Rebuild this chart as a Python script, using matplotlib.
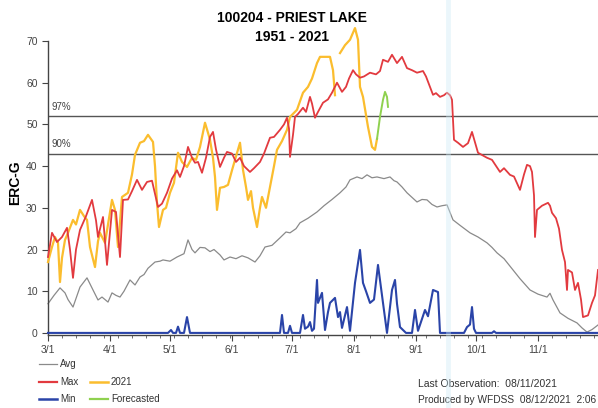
import numpy as np
import matplotlib
matplotlib.use("Agg")
import matplotlib.pyplot as plt
from matplotlib.lines import Line2D

plt.rcParams['font.family'] = ['Liberation Sans', 'DejaVu Sans']

# ---------------- data (day offset from 3/1, ERC-G) ----------------
tick_days = [0, 31, 61, 92, 122, 153, 184, 214, 245]
tick_labels = ["3/1", "4/1", "5/1", "6/1", "7/1", "8/1", "9/1", "10/1", "11/1"]
pct_levels = [52, 43]
pct_labels = ["97%", "90%"]

avg_days = [0, 3, 6, 8.5, 10, 12.5, 16, 19.5, 22.5, 25, 27, 30, 32, 34, 36, 38, 41, 43.5,
            46, 48, 50, 53.5, 56, 57.5, 61, 64.5, 68, 70, 72, 73.5, 76, 78.5, 81, 83, 86,
            88, 91, 94, 97, 100, 103.5, 106, 108.5, 112, 116, 119, 121, 124, 126, 130,
            134.5, 138, 142, 146, 149, 151, 154.5, 157, 159.5, 162, 164.5, 168, 171, 173,
            174.5, 177, 179.5, 182, 184.5, 187, 189.5, 192, 194.5, 197, 199.5, 202.5, 206,
            211, 215, 219.5, 222, 224.5, 228, 232.5, 236, 241, 245, 249.5, 251, 252.5, 256,
            260, 264.5, 267, 269.5, 272, 275]
avg_vals = [7.0, 9.0, 10.8, 9.6, 8.0, 6.2, 11.0, 13.2, 10.3, 7.9, 8.6, 7.4, 9.6, 9.0, 8.6,
            10.0, 12.7, 11.5, 13.4, 14.0, 15.5, 17.0, 17.2, 17.5, 17.2, 18.2, 19.0, 22.3,
            20.0, 19.2, 20.5, 20.4, 19.5, 20.0, 18.7, 17.5, 18.2, 17.8, 18.5, 18.0, 17.0,
            18.5, 20.6, 21.0, 22.8, 24.2, 24.0, 25.0, 26.4, 27.5, 29.0, 30.5, 32.0, 33.6,
            35.0, 36.7, 37.4, 37.0, 37.9, 37.2, 37.4, 37.0, 37.4, 36.5, 36.2, 35.0, 33.6,
            32.5, 31.4, 32.0, 31.9, 30.8, 30.2, 30.5, 30.7, 27.1, 25.8, 24.0, 23.0, 21.6,
            20.5, 19.2, 17.8, 15.1, 13.0, 10.3, 9.3, 8.6, 9.5, 7.9, 4.8, 3.5, 2.4, 1.2,
            0.2, 0.8, 1.9]

max_days = [0, 2, 4.5, 7, 9.5, 11, 12.5, 14, 16, 19, 22, 24, 25, 27.5, 29.5, 32, 34, 36,
            37.5, 40, 42, 44.5, 47, 49.5, 52, 55, 57, 59.5, 62, 64.5, 66, 68, 70, 72, 73.5,
            75, 77, 79, 81, 82.5, 84, 86, 88, 89.5, 92, 94, 96, 98, 101, 103, 106, 108, 111,
            113, 116, 118, 119.5, 120.5, 121, 122.5, 123.5, 125, 127.5, 129, 131, 132,
            133.5, 135, 137.5, 140, 142, 144.5, 147, 149, 150.5, 152.5, 154, 156, 158, 161,
            164, 166, 167.5, 170, 172, 174.5, 177, 179.5, 182, 184.5, 187.5, 189, 191,
            192.5, 194, 196, 198, 199.5, 201, 202, 203, 205, 207.5, 210, 212, 215, 219.5,
            222, 226, 228, 231, 233, 236, 238, 239.5, 241, 242, 243, 243.5, 244.5, 247,
            250, 251, 252, 254, 255.5, 257, 258.5, 259.5, 260, 262, 263.5, 265, 266.5,
            267.5, 270, 272, 273.5, 275]
max_vals = [18.2, 24.0, 21.8, 23.0, 25.2, 20.0, 13.2, 20.0, 24.7, 28.0, 31.9, 27.0, 23.0,
            27.8, 16.3, 29.5, 29.0, 18.2, 31.9, 32.0, 34.0, 36.7, 34.3, 36.2, 36.5, 30.2,
            31.0, 33.6, 37.0, 39.0, 37.4, 40.0, 44.6, 42.0, 40.8, 41.0, 38.4, 42.0, 47.0,
            48.2, 44.0, 39.8, 42.0, 43.4, 43.0, 41.0, 42.0, 40.0, 38.6, 39.5, 41.0, 43.0,
            46.8, 47.0, 48.7, 50.0, 51.6, 49.0, 42.2, 47.5, 51.8, 52.5, 54.0, 53.0, 56.6,
            55.0, 51.6, 53.0, 55.2, 56.0, 57.6, 60.0, 57.8, 59.0, 61.0, 63.0, 62.0, 61.2,
            61.5, 62.4, 62.0, 62.8, 65.5, 65.0, 66.7, 64.7, 66.2, 63.5, 63.0, 62.4, 62.8,
            61.5, 59.0, 57.1, 57.5, 56.6, 57.0, 57.6, 57.0, 55.9, 46.3, 45.6, 44.6, 45.5,
            48.2, 43.2, 42.0, 41.5, 38.6, 39.5, 37.9, 37.5, 34.3, 38.0, 40.3, 40.0, 38.6,
            33.0, 23.0, 29.5, 30.5, 31.2, 30.5, 28.8, 27.5, 25.0, 19.9, 17.0, 10.3, 15.1,
            14.5, 10.3, 12.0, 8.0, 3.8, 4.2, 7.2, 9.0, 15.1]

y2021_days = [0, 2, 3.5, 5, 6, 7, 8.5, 10, 12.5, 14, 16, 18, 19.5, 21, 23.5, 25, 26, 28.5,
              30, 32, 33.5, 35, 37, 40, 42, 43.5, 46, 48, 50, 52.5, 53.5, 54.5, 55.5, 57.5,
              59, 61, 63, 65, 67, 69.5, 72, 74, 76, 78.5, 80, 81, 82.5, 83.5, 84.5, 86, 88,
              90, 92, 93.5, 96, 97.5, 99, 100, 101.5, 102.5, 104.5, 106, 107, 109, 111, 113,
              114.5, 117, 119.5, 121, 124.5, 127.5, 130, 132, 134.5, 136, 139.5, 141,
              142.5, 143.5, 145, 146, 148.5, 151, 153.5, 155, 156, 157.5, 160, 162, 163.5,
              164.5]
y2021_vals = [17.0, 20.6, 23.0, 21.6, 12.2, 18.0, 22.3, 24.0, 27.1, 26.0, 29.5, 28.0, 27.1,
              20.6, 15.8, 22.0, 24.0, 21.6, 26.0, 31.9, 29.5, 20.6, 32.6, 33.6, 38.0, 42.7,
              45.6, 46.0, 47.5, 45.8, 40.0, 31.2, 25.4, 29.5, 30.0, 33.6, 36.0, 43.2, 41.0,
              39.8, 42.0, 41.5, 44.6, 50.4, 48.0, 46.3, 42.0, 37.4, 29.5, 34.8, 35.0, 35.5,
              39.0, 41.5, 45.6, 39.1, 35.0, 31.9, 34.0, 30.0, 25.4, 30.0, 32.6, 30.0, 35.0,
              40.0, 43.9, 46.0, 48.7, 51.8, 53.5, 57.6, 59.0, 61.0, 64.7, 66.2, 66.2, 66.2,
              63.0, 57.0, np.nan, 67.1, 69.0, 70.3, 73.1, 70.3, 59.0, 56.6, 49.4, 44.6,
              43.9, 46.5]

fcst_days = [164.5, 166, 167.5, 168.5, 169.5, 170]
fcst_vals = [46.5, 51.8, 55.9, 57.8, 56.6, 54.2]

min_days = [0, 60, 61.5, 62.5, 64, 65, 66, 68, 69.5, 71, 116, 117, 118, 120, 121, 122, 126,
            127.5, 128.5, 130, 131, 132, 133, 134.5, 135, 137, 138.5, 140, 141, 143.5, 145,
            146, 147, 149.5, 151, 153.5, 156, 157.5, 159, 161, 163, 165, 167.5, 169.5, 172,
            173.5, 174.5, 176, 179, 182, 183.5, 185, 188.5, 190, 192.5, 195, 196, 208,
            209.5, 211, 212, 213, 214, 222, 223, 224, 275]
min_vals = [0, 0, 0.7, 0, 0, 1.5, 0, 0, 3.8, 0, 0, 4.3, 0, 0, 1.7, 0, 0, 4.3, 1.0, 1.5, 2.6,
            0.5, 1.0, 12.7, 7.2, 9.6, 0.7, 5.0, 7.2, 8.4, 3.8, 5.0, 1.2, 6.2, 0.5, 12.0,
            19.9, 12.0, 10.0, 7.2, 8.0, 16.3, 7.2, 0, 10.3, 12.7, 7.0, 1.4, 0, 0, 5.5, 0.5,
            5.5, 4.0, 10.3, 9.8, 0, 0, 1.4, 2.0, 6.2, 1.0, 0, 0, 0.4, 0, 0]

# ---------------- figure ----------------
W, H = 598, 408
fig = plt.figure(figsize=(W / 100, H / 100), dpi=100)

def fx(x):
    return x / W

def fy(y):
    return 1 - y / H

ax_left, ax_right, ax_top, ax_bot = 48, 598, 41, 335
ax = fig.add_axes([fx(ax_left), fy(ax_bot), (ax_right - ax_left) / W, (ax_bot - ax_top) / H])
ax.set_xlim(0, 275)
ax.set_ylim(-0.5, 70)

red = "#e23a3f"
yellow = "#fbbd2e"
gray = "#8a8a8a"
blue = "#2a44a8"
green = "#8fd14f"

for lv, lb in zip(pct_levels, pct_labels):
    ax.axhline(lv, color="#555555", lw=1.0, zorder=1)
    ax.text(2, lv + 1.0, lb, fontsize=7, color="#444444", ha="left", va="bottom")

ax.plot(avg_days, avg_vals, color=gray, lw=0.9, zorder=2, clip_on=False)
ax.plot(y2021_days, y2021_vals, color=yellow, lw=1.6, zorder=3, clip_on=False)
ax.plot(max_days, max_vals, color=red, lw=1.3, zorder=4, clip_on=False)
ax.plot(fcst_days, fcst_vals, color=green, lw=1.4, zorder=4, clip_on=False)
ax.plot(min_days, min_vals, color=blue, lw=1.5, zorder=5, clip_on=False)

for s in ["top", "right"]:
    ax.spines[s].set_visible(False)
for s in ["left", "bottom"]:
    ax.spines[s].set_color("#444444")
    ax.spines[s].set_linewidth(1.0)

ax.set_yticks(range(0, 71, 10))
ax.set_xticks(tick_days)
ax.set_xticklabels(tick_labels)
ax.set_xticks(np.arange(0, 276, 7), minor=True)
ax.tick_params(axis="both", labelsize=7.5, colors="#444444", length=4, width=0.8)
ax.tick_params(axis="x", which="minor", length=2, width=0.6, colors="#555555")

fig.text(fx(15), fy(183), "ERC-G", rotation=90, ha="center", va="center",
         fontsize=10, fontweight="bold")

# title
fig.text(fx(292), fy(18), "100204 - PRIEST LAKE", ha="center", va="center",
         fontsize=10, fontweight="bold")
fig.text(fx(292), fy(37), "1951 - 2021", ha="center", va="center",
         fontsize=10, fontweight="bold")

# legend
def leg(x0, y, color, label, lw):
    fig.add_artist(Line2D([fx(x0), fx(x0 + 18)], [fy(y), fy(y)], color=color, lw=lw,
                          transform=fig.transFigure))
    fig.text(fx(x0 + 21), fy(y), label, fontsize=7, va="center", ha="left",
             color="#333333")

leg(39, 364, gray, "Avg", 0.9)
leg(39, 382, red, "Max", 1.6)
leg(90, 382, yellow, "2021", 1.8)
leg(39, 399, blue, "Min", 1.8)
leg(90, 399, green, "Forecasted", 1.6)

fig.text(fx(418), fy(384), "Last Observation:  08/11/2021", fontsize=7.5, va="center",
         ha="left", color="#333333")
fig.text(fx(418), fy(400), "Produced by WFDSS  08/12/2021  2:06", fontsize=7.3,
         va="center", ha="left", color="#333333")

# faint scan stripe
fig.add_artist(Line2D([fx(448), fx(448)], [0, 1], color="#cdeaf6", lw=3.5, alpha=0.4,
                      transform=fig.transFigure, zorder=10))

fig.savefig("out.png", dpi=100)
